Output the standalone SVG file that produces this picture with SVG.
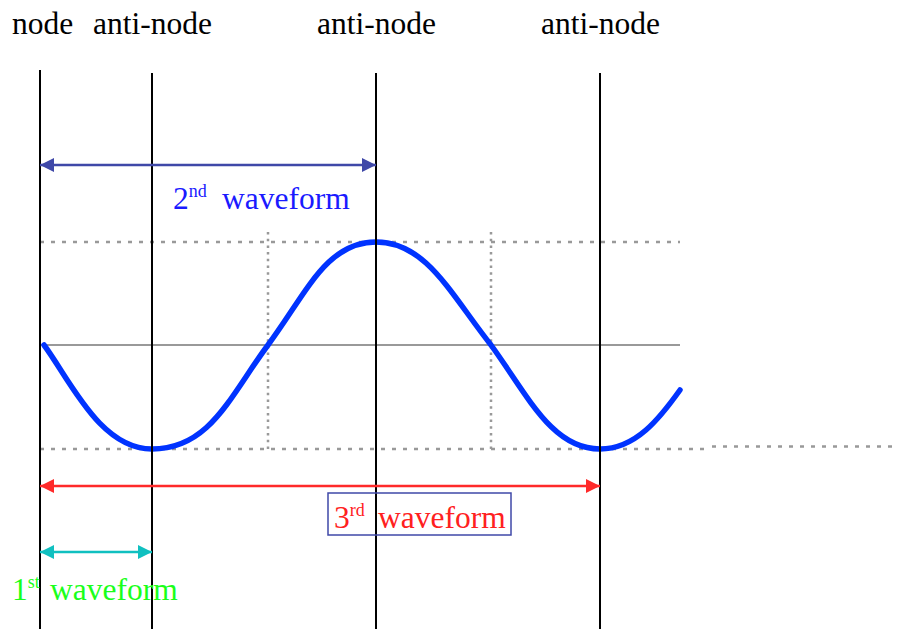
<svg xmlns="http://www.w3.org/2000/svg" width="899" height="629" viewBox="0 0 899 629">
<style>
text{font-family:"Liberation Serif","Times New Roman",serif;font-size:31.5px}
.sup{font-size:18px}
.vl{stroke:#000;stroke-width:2}
.dh{stroke:#999;stroke-width:2.5;stroke-dasharray:4 7;fill:none}
.dv{stroke:#999;stroke-width:2.5;stroke-dasharray:2.5 4.2;fill:none}
</style>
<defs>
<marker id="ab" viewBox="0 0 10 10" refX="10" refY="5" markerWidth="14" markerHeight="14" markerUnits="userSpaceOnUse" orient="auto-start-reverse"><path d="M0,0L10,5L0,10z" fill="#3f48a8"/></marker>
<marker id="ar" viewBox="0 0 10 10" refX="10" refY="5" markerWidth="14" markerHeight="14" markerUnits="userSpaceOnUse" orient="auto-start-reverse"><path d="M0,0L10,5L0,10z" fill="#ff2a2a"/></marker>
<marker id="ac" viewBox="0 0 10 10" refX="10" refY="5" markerWidth="14" markerHeight="14" markerUnits="userSpaceOnUse" orient="auto-start-reverse"><path d="M0,0L10,5L0,10z" fill="#10c0c0"/></marker>
</defs>
<rect width="899" height="629" fill="#fff"/>
<g id="grid">
<line class="dh" x1="40" y1="242" x2="680" y2="242"/>
<line x1="40" y1="345" x2="680" y2="345" stroke="#999" stroke-width="2"/>
<line class="dh" x1="40" y1="449" x2="706" y2="449"/>
<line class="dh" x1="712" y1="446.5" x2="899" y2="446.5"/>
<line class="dv" x1="268" y1="232" x2="268" y2="452"/>
<line class="dv" x1="491" y1="232" x2="491" y2="452"/>
</g>
<g id="wave">
<path d="M44,345 C70,380 100,449 152,449 C210,449 230,396 268,345 C306,294 326,242 376,242 C426,242 450,293 491,345 C528,396 552,449 600,449 C636,449 660,418 680,390" fill="none" stroke="#0033ff" stroke-width="5.5" stroke-linecap="round"/>
</g>
<g id="lines">
<line class="vl" x1="40" y1="70" x2="40" y2="629"/>
<line class="vl" x1="152" y1="73" x2="152" y2="629"/>
<line class="vl" x1="376" y1="73" x2="376" y2="629"/>
<line class="vl" x1="600" y1="73" x2="600" y2="629"/>
</g>
<g id="labels">
<text x="12" y="34">node</text>
<text x="93" y="34">anti-node</text>
<text x="317" y="34">anti-node</text>
<text x="541" y="34">anti-node</text>
</g>
<g id="connectors">
<line x1="40" y1="165" x2="376" y2="165" stroke="#3f48a8" stroke-width="2.5" marker-start="url(#ab)" marker-end="url(#ab)"/>
<line x1="40" y1="486" x2="600" y2="486" stroke="#ff2a2a" stroke-width="2.5" marker-start="url(#ar)" marker-end="url(#ar)"/>
<line x1="40" y1="552" x2="152" y2="552" stroke="#10c0c0" stroke-width="2.5" marker-start="url(#ac)" marker-end="url(#ac)"/>
</g>
<g id="second">
<text x="173" y="209" fill="#1a1aff">2<tspan class="sup" dy="-12">nd</tspan><tspan x="222" dy="12">waveform</tspan></text>
</g>
<g id="third">
<rect x="328" y="493" width="183" height="42" fill="none" stroke="#3f48a8" stroke-width="1.5"/>
<text x="334" y="528" fill="#ff2020">3<tspan class="sup" dy="-12">rd</tspan><tspan x="378" dy="12">waveform</tspan></text>
</g>
<g id="first">
<text x="12" y="600" fill="#1aff1a">1<tspan class="sup" dy="-12">st</tspan><tspan x="50" dy="12">waveform</tspan></text>
</g>
</svg>
